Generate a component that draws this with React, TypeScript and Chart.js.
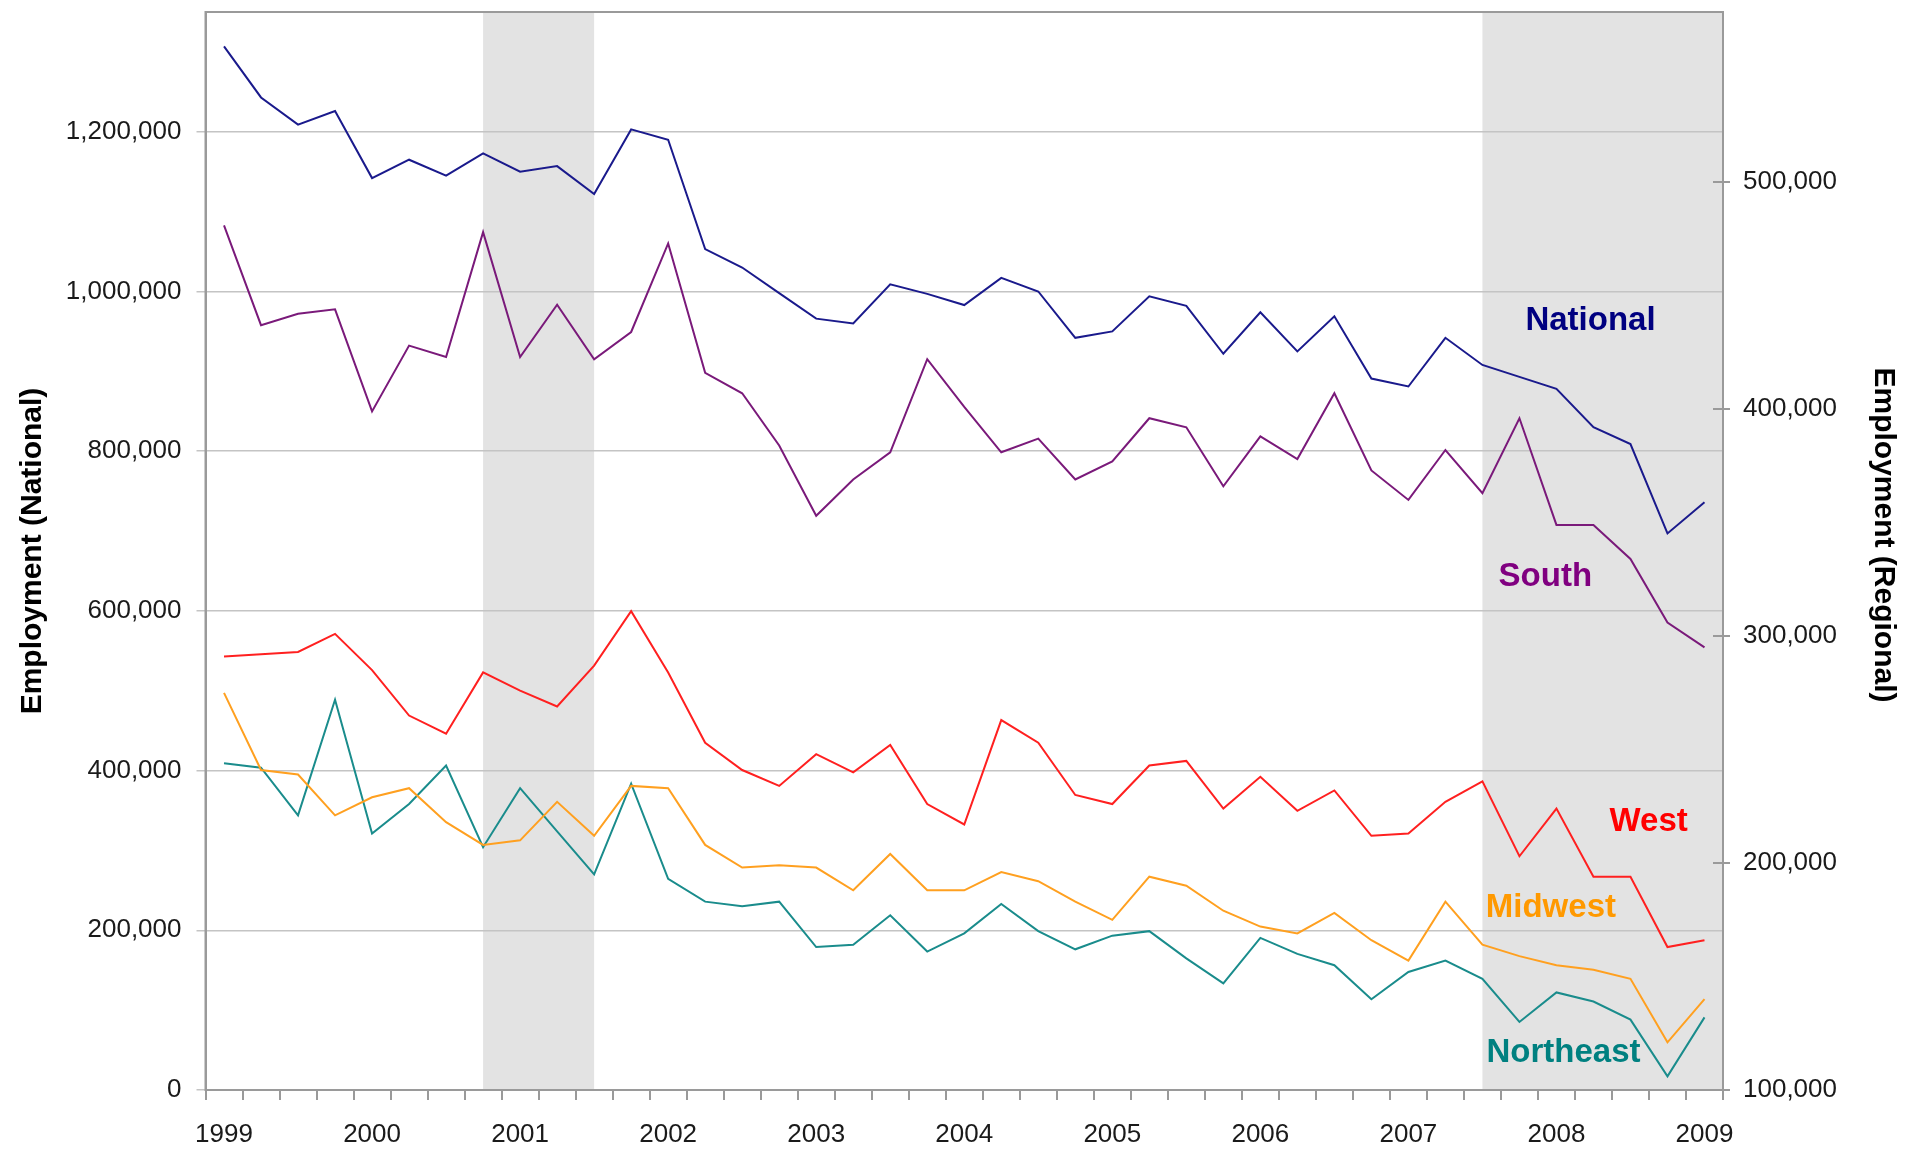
import React, { useEffect, useRef } from 'react';
import { Chart, registerables } from 'chart.js';

Chart.register(...registerables);

const FONT = 'Arial, "Liberation Sans", sans-serif';

const quarters = [
  '1999 Q1', '1999 Q2', '1999 Q3', '1999 Q4',
  '2000 Q1', '2000 Q2', '2000 Q3', '2000 Q4',
  '2001 Q1', '2001 Q2', '2001 Q3', '2001 Q4',
  '2002 Q1', '2002 Q2', '2002 Q3', '2002 Q4',
  '2003 Q1', '2003 Q2', '2003 Q3', '2003 Q4',
  '2004 Q1', '2004 Q2', '2004 Q3', '2004 Q4',
  '2005 Q1', '2005 Q2', '2005 Q3', '2005 Q4',
  '2006 Q1', '2006 Q2', '2006 Q3', '2006 Q4',
  '2007 Q1', '2007 Q2', '2007 Q3', '2007 Q4',
  '2008 Q1', '2008 Q2', '2008 Q3', '2008 Q4',
  '2009 Q1',
];

const yearTicks = ['1999', '2000', '2001', '2002', '2003', '2004', '2005', '2006', '2007', '2008', '2009'];
const nationalTicks = [0, 200000, 400000, 600000, 800000, 1000000, 1200000];
const regionalTicks = [100000, 200000, 300000, 400000, 500000];

const nationalData = [
  1307000, 1243000, 1209000, 1226000, 1142000, 1165000, 1145000, 1173000,
  1150000, 1157000, 1122000, 1203000, 1190000, 1053000, 1030000, 998000,
  966000, 960000, 1009000, 997000, 983000, 1017000, 1000000, 942000,
  950000, 994000, 982000, 922000, 974000, 925000, 969000, 891000,
  881000, 942000, 908000, 893000, 878000, 830000, 809000, 697000,
  736000,
];

const southData = [
  481000, 437000, 442000, 444000, 399000, 428000, 423000, 478000,
  423000, 446000, 422000, 434000, 473000, 416000, 407000, 384000,
  353000, 369000, 381000, 422000, 401000, 381000, 387000, 369000,
  377000, 396000, 392000, 366000, 388000, 378000, 407000, 373000,
  360000, 382000, 363000, 396000, 349000, 349000, 334000, 306000,
  295000,
];

const westData = [
  291000, 292000, 293000, 301000, 285000, 265000, 257000, 284000,
  276000, 269000, 287000, 311000, 284000, 253000, 241000, 234000,
  248000, 240000, 252000, 226000, 217000, 263000, 253000, 230000,
  226000, 243000, 245000, 224000, 238000, 223000, 232000, 212000,
  213000, 227000, 236000, 203000, 224000, 194000, 194000, 163000,
  166000,
];

const midwestData = [
  275000, 241000, 239000, 221000, 229000, 233000, 218000, 208000,
  210000, 227000, 212000, 234000, 233000, 208000, 198000, 199000,
  198000, 188000, 204000, 188000, 188000, 196000, 192000, 183000,
  175000, 194000, 190000, 179000, 172000, 169000, 178000, 166000,
  157000, 183000, 164000, 159000, 155000, 153000, 149000, 121000,
  140000,
];

const northeastData = [
  244000, 242000, 221000, 272000, 213000, 226000, 243000, 207000,
  233000, 214000, 195000, 235000, 193000, 183000, 181000, 183000,
  163000, 164000, 177000, 161000, 169000, 182000, 170000, 162000,
  168000, 170000, 158000, 147000, 167000, 160000, 155000, 140000,
  152000, 157000, 149000, 130000, 143000, 139000, 131000, 106000,
  132000,
];

// recession shading, in category-index units (start, end)
const recessionStart = [7, 34];
const recessionEnd = [10, 40.5];

// in-chart series labels: text, anchor category index, anchor value, axis
const labelTexts = ['National', 'South', 'West', 'Midwest', 'Northeast'];
const labelIndex = [36.92, 35.7, 38.49, 35.85, 36.19];
const labelValue = [963000, 326000, 218200, 180300, 116400];
const labelAxis = ['y', 'y1', 'y1', 'y1', 'y1'];
const labelColors = ['#000080', '#800080', '#ff0000', '#ff9900', '#008080'];

const rightTitle = 'Employment (Regional)';

const fmt = (v: number) => String(Math.round(v)).replace(/\B(?=(\d{3})+(?!\d))/g, ',');

const bandsPlugin = {
  id: 'bands',
  beforeDraw(chart: any) {
    const { ctx, chartArea, scales } = chart;
    const x = scales.x;
    ctx.save();
    ctx.fillStyle = '#e3e3e3';
    for (let i = 0; i < recessionStart.length; i++) {
      const x0 = Math.max(x.getPixelForValue(recessionStart[i]), chartArea.left);
      const x1 = Math.min(x.getPixelForValue(recessionEnd[i]), chartArea.right);
      ctx.fillRect(x0, chartArea.top, x1 - x0, chartArea.bottom - chartArea.top);
    }
    ctx.restore();
  },
  beforeDatasetsDraw(chart: any) {
    const { ctx, chartArea, scales } = chart;
    ctx.save();
    ctx.strokeStyle = '#9a9a9a';
    ctx.lineWidth = 2;
    ctx.strokeRect(chartArea.left, chartArea.top, chartArea.right - chartArea.left, chartArea.bottom - chartArea.top);
    // inner half of the secondary axis tick marks (they cross the axis)
    ctx.beginPath();
    for (const v of regionalTicks) {
      const py = Math.round(scales.y1.getPixelForValue(v));
      ctx.moveTo(chartArea.right - 10, py);
      ctx.lineTo(chartArea.right, py);
    }
    ctx.stroke();
    ctx.restore();
  },
  afterDatasetsDraw(chart: any) {
    const { ctx, scales } = chart;
    ctx.save();
    ctx.font = `bold 33px ${FONT}`;
    ctx.textAlign = 'center';
    ctx.textBaseline = 'middle';
    for (let i = 0; i < labelTexts.length; i++) {
      ctx.fillStyle = labelColors[i];
      const px = scales.x.getPixelForValue(labelIndex[i]);
      const py = scales[labelAxis[i]].getPixelForValue(labelValue[i]);
      ctx.fillText(labelTexts[i], px, py);
    }
    ctx.restore();
  },
  afterDraw(chart: any) {
    const { ctx, chartArea } = chart;
    ctx.save();
    ctx.font = `bold 30px ${FONT}`;
    ctx.fillStyle = '#000';
    ctx.textAlign = 'center';
    ctx.textBaseline = 'middle';
    ctx.translate(chart.width - 21.5, (chartArea.top + chartArea.bottom) / 2 - 16);
    ctx.rotate(Math.PI / 2);
    ctx.fillText(rightTitle, 0, 0);
    ctx.restore();
  },
};

export default function App() {
  const ref = useRef<HTMLCanvasElement | null>(null);

  useEffect(() => {
    if (!ref.current) return;
    const tickFont = { family: FONT, size: 26 };
    const ds = (label: string, data: number[], color: string, axis: string) => ({
      label,
      data,
      borderColor: color,
      backgroundColor: color,
      borderWidth: 2,
      pointRadius: 0,
      tension: 0,
      yAxisID: axis,
    });
    const chart = new Chart(ref.current, {
      type: 'line',
      data: {
        labels: quarters,
        datasets: [
          ds('National', nationalData, '#1a1a8c', 'y'),
          ds('South', southData, '#7a1a7a', 'y1'),
          ds('West', westData, '#ff2020', 'y1'),
          ds('Midwest', midwestData, '#ffa020', 'y1'),
          ds('Northeast', northeastData, '#1a8c8c', 'y1'),
        ],
      },
      options: {
        animation: false,
        responsive: false,
        devicePixelRatio: 1,
        layout: { padding: { top: 12, left: 0, right: 0, bottom: 0 } },
        plugins: { legend: { display: false }, tooltip: { enabled: false } },
        scales: {
          x: {
            type: 'category',
            offset: true,
            grid: { offset: true, drawOnChartArea: false, drawTicks: true, tickLength: 10, color: '#9a9a9a', lineWidth: 2 },
            border: { display: true, color: '#9a9a9a', width: 2 },
            ticks: {
              autoSkip: false,
              maxRotation: 0,
              minRotation: 0,
              padding: 19,
              color: '#1a1a1a',
              font: tickFont,
              callback: (_v: any, i: number) => (i % 4 === 0 ? yearTicks[i / 4] : ''),
            },
            afterFit: (s: any) => { s.height = 61; s.paddingLeft = 0; s.paddingRight = 0; },
          },
          y: {
            position: 'left',
            min: 0,
            max: 1350000,
            ticks: { autoSkip: false, padding: 15, color: '#1a1a1a', font: tickFont, callback: (v: any) => fmt(Number(v)) },
            afterBuildTicks: (s: any) => { s.ticks = nationalTicks.map((v) => ({ value: v })); },
            grid: { color: '#c4c4c4', lineWidth: 1.5, tickLength: 9, drawTicks: true },
            border: { color: '#9a9a9a', width: 2 },
            title: {
              display: true,
              text: 'Employment (National)',
              color: '#000',
              font: { family: FONT, size: 30, weight: 'bold' },
              padding: { top: 15, bottom: 0 },
            },
            afterFit: (s: any) => { s.width = 205.5; s.paddingTop = 0; s.paddingBottom = 0; },
          },
          y1: {
            position: 'right',
            min: 100000,
            max: 575000,
            ticks: { autoSkip: false, padding: 13, color: '#1a1a1a', font: tickFont, callback: (v: any) => fmt(Number(v)) },
            afterBuildTicks: (s: any) => { s.ticks = regionalTicks.map((v) => ({ value: v })); },
            grid: { drawOnChartArea: false, tickLength: 7, color: '#9a9a9a', lineWidth: 2 },
            border: { color: '#9a9a9a', width: 2 },
            title: { display: false },
            afterFit: (s: any) => { s.width = 182; s.paddingTop = 0; s.paddingBottom = 0; },
          },
        },
      } as any,
      plugins: [bandsPlugin],
    });
    return () => chart.destroy();
  }, []);

  return (
    <div style={{ position: 'fixed', left: 0, top: 0, width: 1905, height: 1151, background: '#fff' }}>
      <canvas ref={ref} width={1905} height={1151} style={{ width: 1905, height: 1151, display: 'block' }} />
    </div>
  );
}
